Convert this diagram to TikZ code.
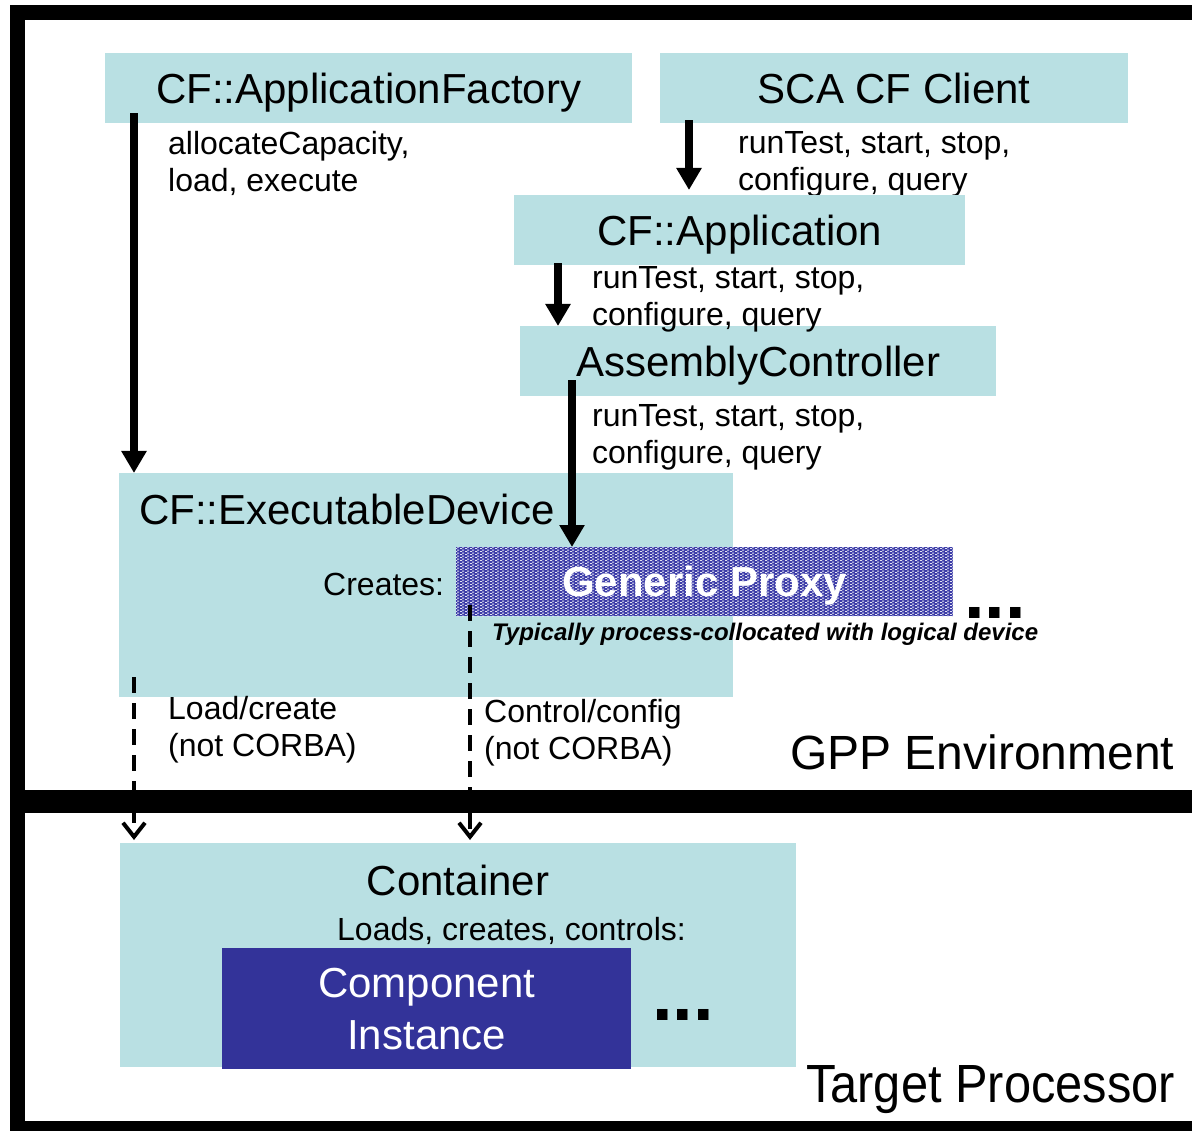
\documentclass[tikz,border=0pt]{standalone}
\usepackage{fontspec}
\setmainfont{Liberation Sans}
\usetikzlibrary{arrows.meta,patterns,calc}
\definecolor{tealbox}{RGB}{185,224,227}
\definecolor{navybox}{RGB}{51,51,153}
\definecolor{proxyblue}{RGB}{60,60,168}
\pgfdeclarepatternformonly{proxydots}{\pgfqpoint{0pt}{0pt}}{\pgfqpoint{5pt}{3.4pt}}{\pgfqpoint{5pt}{3.4pt}}{%
  \pgfpathrectangle{\pgfqpoint{0pt}{0pt}}{\pgfqpoint{2.4pt}{1pt}}%
  \pgfpathrectangle{\pgfqpoint{2.5pt}{1.7pt}}{\pgfqpoint{2.4pt}{1pt}}%
  \pgfusepath{fill}}
\begin{document}
\begin{tikzpicture}[x=1pt,y=-1pt,
  box/.style={fill=tealbox, inner sep=0pt, anchor=north west},
  titlefont/.style={font=\fontsize{42}{50}\selectfont, text depth=0pt},
  body/.style={font=\fontsize{32}{37.5}\selectfont, inner sep=0pt, align=left, anchor=north west},
  bigarrow/.style={line width=8pt, -{Triangle[length=22pt,width=24pt]}},
  dasharrow/.style={line width=4pt, dash pattern=on 16pt off 10pt, -{Straight Barb[length=14pt,width=22pt,line width=4pt]}},
  dots/.style={font=\fontsize{74}{74}\selectfont\bfseries, inner sep=0pt, anchor=base west, text height=11pt, text depth=0pt}]
\useasboundingbox (0,0) rectangle (1192,1131);
% frame
\fill[black] (10,5) rectangle (1192,20);
\fill[black] (10,5) rectangle (25,1131);
\fill[black] (10,790) rectangle (1192,813);
\fill[black] (10,1121) rectangle (1192,1131);
% top boxes
\node[box, titlefont, minimum width=527pt, minimum height=70pt] (af) at (105,53) {CF::ApplicationFactory};
\node[box, titlefont, minimum width=468pt, minimum height=70pt] (client) at (660,53) {SCA CF Client};
\node[body] (t1) at (168,131) {allocateCapacity,\\load, execute};
\node[body] (t2) at (738,131) {runTest, start, stop,\\configure, query};
\node[box, titlefont, minimum width=451pt, minimum height=70pt] (app) at (514,195) {CF::Application};
\node[box, titlefont, minimum width=476pt, minimum height=70pt] (ac) at (520,326) {AssemblyController};
\node[body] (t3) at (592,266) {runTest, start, stop,\\configure, query};
\node[body] (t4) at (592,404) {runTest, start, stop,\\configure, query};
% executable device
\node[box, minimum width=614pt, minimum height=224pt] (ed) at (119,473) {};
\node[font=\fontsize{42}{50}\selectfont, inner sep=0pt, anchor=base west] (edl) at (139,525) {CF::ExecutableDevice};
\node[font=\fontsize{32}{37.5}\selectfont, inner sep=0pt, anchor=base west] (cr) at (323,595) {Creates:};
\node[box, minimum width=497pt, minimum height=69pt, fill=proxyblue,
      postaction={pattern=proxydots, pattern color=white!85!proxyblue},
      text=white, text depth=0pt, font=\fontsize{42}{50}\selectfont\bfseries] (gp) at (456,547) {Generic Proxy};
\node[font=\fontsize{24}{28}\selectfont\bfseries\itshape, inner sep=0pt, anchor=base west] (typ) at (492,640) {Typically process-collocated with logical device};
\node[dots] (gpdots) at (964,618) {...};
\node[body] (lc) at (168,696) {Load/create\\(not CORBA)};
\node[body] (cc) at (484,699) {Control/config\\(not CORBA)};
\node[font=\fontsize{48}{56}\selectfont, inner sep=0pt, anchor=base west] (gpp) at (790,769) {GPP Environment};
% target processor
\node[box, minimum width=676pt, minimum height=224pt] (cont) at (120,843) {};
\node[font=\fontsize{42}{50}\selectfont, inner sep=0pt, anchor=base] (contl) at (458,895) {Container};
\node[font=\fontsize{32}{37.5}\selectfont, inner sep=0pt, anchor=base west] (lcc) at (337,940) {Loads, creates, controls:};
\node[box, fill=navybox, minimum width=409pt, minimum height=121pt, text=white, align=center,
      font=\fontsize{42}{52}\selectfont] (ci) at (222,948) {Component\\Instance};
\node[dots] (cidots) at (652,1020) {...};
\node[font=\fontsize{48}{56}\selectfont, inner sep=0pt, anchor=base west] (tp) at (806,1102) {\scalebox{1.016}[1.12]{Target Processor}};
% connectors
\draw[bigarrow] ([xshift=29pt,yshift=10pt]af.south west) coordinate (s1) -- (s1 |- ed.north);
\draw[bigarrow] ([xshift=29pt,yshift=3pt]client.south west) coordinate (s2) -- ($(s2 |- app.north)+(0,-5)$);
\draw[bigarrow] ([xshift=44pt,yshift=2pt]app.south west) coordinate (s3) -- (s3 |- ac.north);
\draw[bigarrow] ([xshift=52pt,yshift=16pt]ac.south west) coordinate (s4) -- (s4 |- gp.north);
\draw[dasharrow] ([xshift=15pt,yshift=20pt]ed.south west) coordinate (s5) -- ($(s5 |- cont.north)+(0,-3)$);
\draw[dasharrow] ([xshift=14pt,yshift=11pt]gp.south west) coordinate (s6) -- ($(s6 |- cont.north)+(0,-3)$);
\end{tikzpicture}
\end{document}
